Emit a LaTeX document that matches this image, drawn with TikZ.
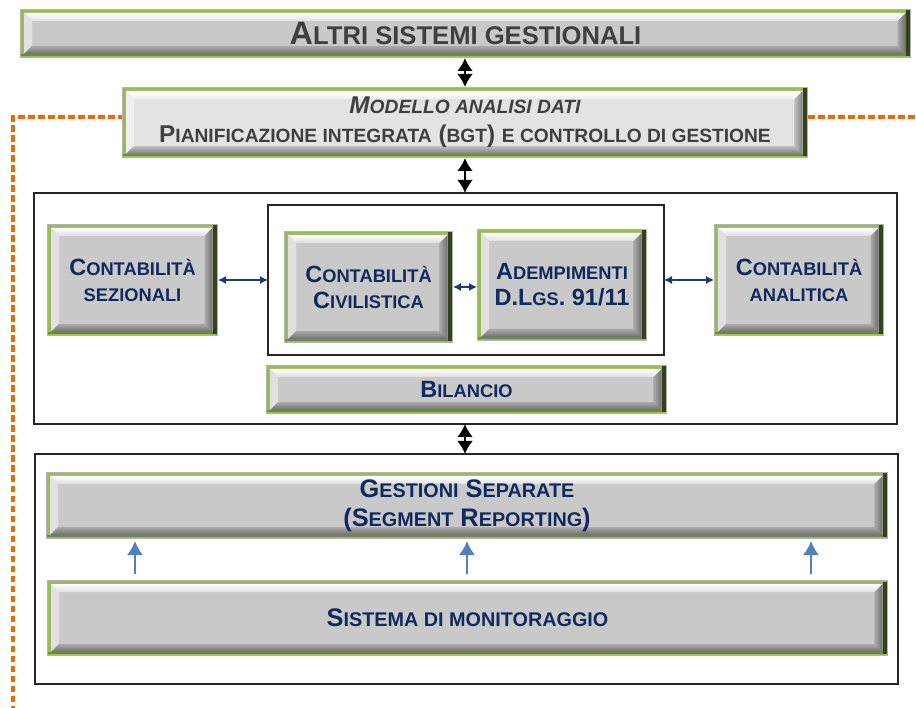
\documentclass[tikz,border=0pt]{standalone}
\usepackage{fontspec}
\setmainfont{Liberation Sans}
\usetikzlibrary{calc,arrows.meta}
\definecolor{gl}{HTML}{9BBB59}
\definecolor{gd}{HTML}{33421B}
\definecolor{gm}{HTML}{6E8B3D}
\definecolor{face}{HTML}{C9C9C9}
\definecolor{facel}{HTML}{E3E3E3}
\definecolor{navy}{HTML}{10295E}
\definecolor{txtg}{HTML}{3F3F3F}
\definecolor{orng}{HTML}{E46C0A}
\definecolor{sblue}{HTML}{4F81BD}
\definecolor{anavy}{HTML}{1F3A73}
\newcommand\sm[1]{{\fontsize{\smsz}{\smsz}\selectfont #1}}
\newcommand\bevdraw[1]{%
  \coordinate (b1) at (path picture bounding box.south west);
  \coordinate (b2) at (path picture bounding box.north east);
  \fill[gray!60] (b1) rectangle (b2);
  \fill[gl] ($(b1)+(0.6pt,0.6pt)$) rectangle ($(b2)+(-0.6pt,-0.6pt)$);
  \fill[gm] ($(b1)+(0.6pt,1.8pt)$) rectangle ($(b1-|b2)+(-0.6pt,4pt)$);
  \fill[gd] ($(b2)+(-5.5pt,-1.5pt)$) rectangle ($(b1-|b2)+(-0.6pt,1.8pt)$);
  \coordinate (i1) at ($(b1)+(4pt,4pt)$);
  \coordinate (i2) at ($(b2)+(-5.5pt,-4pt)$);
  \coordinate (i3) at (i1|-i2);
  \coordinate (i4) at (i2|-i1);
  \fill[#1] (i1) rectangle (i2);
  \shade[top color=white, bottom color=#1!60!white] (i3) -- (i2) -- ($(i2)+(-8pt,-8pt)$) -- ($(i3)+(8pt,-8pt)$) -- cycle;
  \fill[#1!55!white] (i1) -- (i3) -- ($(i3)+(8pt,-8pt)$) -- ($(i1)+(8pt,8pt)$) -- cycle;
  \shade[left color=#1!85!black, right color=#1!55!black] (i4) -- (i2) -- ($(i2)+(-8pt,-8pt)$) -- ($(i4)+(-8pt,8pt)$) -- cycle;
  \shade[top color=#1!85!black, bottom color=#1!55!black] (i1) -- (i4) -- ($(i4)+(-8pt,8pt)$) -- ($(i1)+(8pt,8pt)$) -- cycle;
}
\tikzset{
  bev/.style={inner sep=0pt, outer sep=0pt, anchor=north west, align=center, path picture={\bevdraw{#1}}},
  frm/.style={draw=black!85, line width=1.8pt, fill=white, inner sep=0pt, outer sep=0pt, anchor=north west},
  bigtxt/.style={font=\bfseries\fontsize{32.5}{38}\selectfont\def\smsz{25.6pt}, text=txtg},
  modtxt/.style={font=\bfseries\fontsize{24.3}{29}\selectfont\def\smsz{19.2pt}, text=txtg},
  boxtxt/.style={font=\bfseries\fontsize{23.5}{26}\selectfont\def\smsz{18.3pt}, text=navy},
  gsttxt/.style={font=\bfseries\fontsize{25.4}{29}\selectfont\def\smsz{19.8pt}, text=navy},
  blkarr/.style={{Latex[length=13pt,width=16pt]}-{Latex[length=13pt,width=16pt]}, line width=2.8pt, black},
  narr/.style={{Latex[length=8pt,width=8pt]}-{Latex[length=8pt,width=8pt]}, line width=1.2pt, anavy},
  barr/.style={-{Latex[length=14pt,width=16pt]}, line width=2pt, sblue},
  odash/.style={orng, line width=3.2pt, dash pattern=on 6.5pt off 3.5pt}
}
\begin{document}
\begin{tikzpicture}[x=1pt,y=-1pt]
\useasboundingbox (0,0) rectangle (916,708);
% orange dashed frame (behind)
\coordinate (d0) at (13,712);
\coordinate (d1) at (13,117);
\coordinate (d2) at (920,117);
% frames
\node[frm, minimum width=863pt, minimum height=231pt] (frame1) at (34,193) {};
\node[frm, minimum width=396pt, minimum height=150pt, line width=1.5pt] (inner) at (268,205) {};
\node[frm, minimum width=863pt, minimum height=230pt] (frame2) at (35,454) {};
% boxes
\node[bev=face, bigtxt, minimum width=891pt, minimum height=49pt] (altri) at (20,9) {A\sm{LTRI SISTEMI GESTIONALI}};
\node[bev=facel, modtxt, minimum width=686pt, minimum height=71pt] (modello) at (122,87)
  {\itshape M\sm{ODELLO ANALISI DATI}\\ P\sm{IANIFICAZIONE INTEGRATA} (\sm{BGT}) \sm{E CONTROLLO DI GESTIONE}};
\draw[odash] (d0) -- (d1) -- (d1 -| modello.west);
\draw[odash] (modello.east |- d2) -- (d2);
\node[bev=face, boxtxt, minimum width=171pt, minimum height=112pt] (sez) at (47,224) {C\sm{ONTABILITÀ}\\\sm{SEZIONALI}};
\node[bev=face, boxtxt, minimum width=169pt, minimum height=112pt] (civ) at (284,231) {C\sm{ONTABILITÀ}\\C\sm{IVILISTICA}};
\node[bev=face, boxtxt, minimum width=170pt, minimum height=112pt] (adem) at (477,229) {A\sm{DEMPIMENTI}\\D.L\sm{GS}. 91/11};
\node[bev=face, boxtxt, minimum width=170pt, minimum height=112pt] (anal) at (714,224) {C\sm{ONTABILITÀ}\\\sm{ANALITICA}};
\node[bev=face, boxtxt, minimum width=401pt, minimum height=49pt] (bil) at (266,365) {B\sm{ILANCIO}};
\node[bev=face, gsttxt, minimum width=842pt, minimum height=67pt] (gest) at (46,472) {G\sm{ESTIONI} S\sm{EPARATE}\\(S\sm{EGMENT} R\sm{EPORTING})};
\node[bev=face, gsttxt, minimum width=841pt, minimum height=76pt] (sist) at (47,580) {S\sm{ISTEMA DI MONITORAGGIO}};
% black arrows
\coordinate (ax) at (465,0);
\draw[blkarr] (altri.south -| ax) -- (modello.north -| ax);
\draw[blkarr] (modello.south -| ax) -- (frame1.north -| ax);
\draw[blkarr] (frame1.south -| ax) -- (frame2.north -| ax);
% navy arrows
\draw[narr] (sez.east) -- (inner.west |- sez.east);
\draw[narr] (civ.east) -- (adem.west |- civ.east);
\draw[narr] (inner.east |- anal.west) -- (anal.west);
% blue arrows
\coordinate (c1) at (135,0);
\coordinate (c2) at (467,0);
\coordinate (c3) at (811,0);
\draw[barr, shorten <=6pt, shorten >=2pt] (sist.north -| c1) -- (gest.south -| c1);
\draw[barr, shorten <=6pt, shorten >=2pt] (sist.north -| c2) -- (gest.south -| c2);
\draw[barr, shorten <=6pt, shorten >=2pt] (sist.north -| c3) -- (gest.south -| c3);
\end{tikzpicture}
\end{document}
